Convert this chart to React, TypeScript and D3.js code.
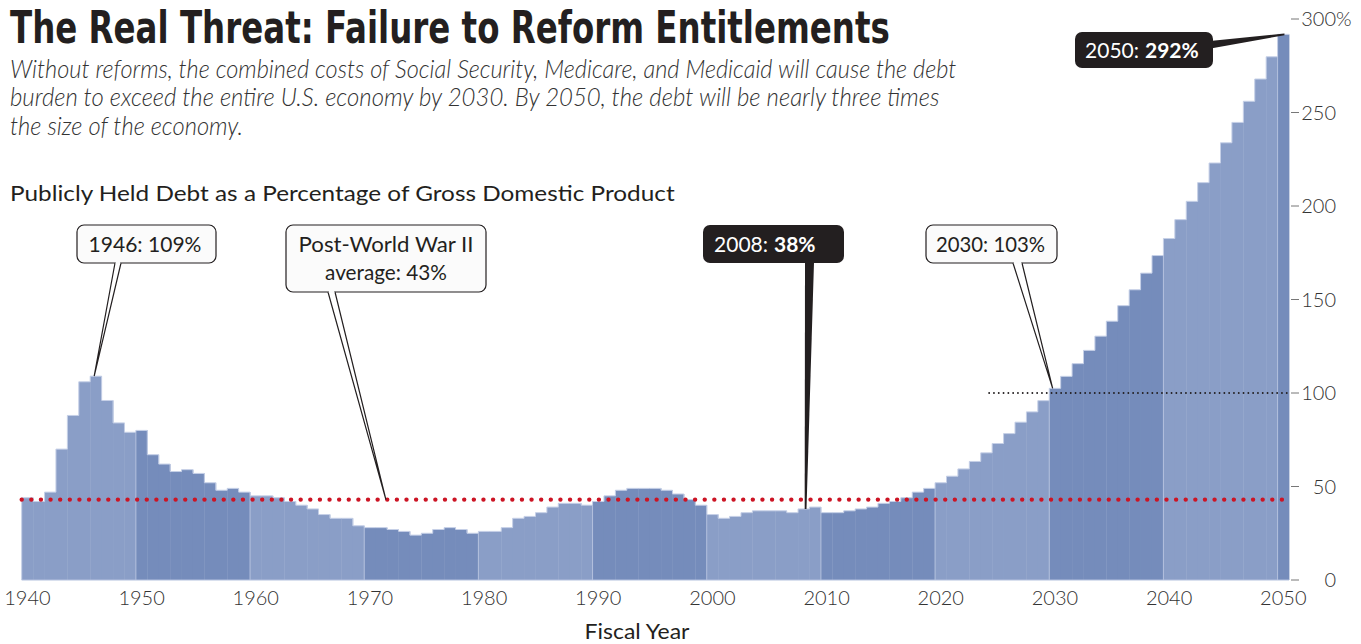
import React, { useEffect, useLayoutEffect, useRef, useState } from "react";
import * as d3 from "d3";

const years: number[] = d3.range(1940, 2051);
const debt1940s = [44, 42, 47, 70, 88, 106, 109, 96, 84, 79];
const debt1950s = [80, 67, 62, 58, 59, 57, 52, 48, 49, 47];
const debt1960s = [45, 45, 44, 42, 40, 38, 35, 33, 33, 29];
const debt1970s = [28, 28, 27, 26, 24, 25, 27, 28, 27, 25];
const debt1980s = [26, 26, 28, 33, 34, 36, 39, 41, 41, 40];
const debt1990s = [42, 45, 48, 49, 49, 49, 48, 46, 43, 40];
const debt2000s = [35, 33, 34, 36, 37, 37, 37, 36, 38, 39];
const debt2010s = [36, 36, 37, 38, 39, 41, 42, 44, 47, 49];
const debt2020s = [52, 55.5, 59.4, 63.4, 68, 73, 78.3, 84.4, 89.9, 95.9];
const debt2030s = [102.5, 108.9, 115.7, 122.8, 130.4, 138.4, 146.7, 155.2, 164.1, 173.5];
const debt2040s = [182.6, 192.7, 202.5, 212.5, 223, 233.8, 244.7, 256, 267.9, 279.8];
const debt2050 = [291.8];
const debt: number[] = [
  ...debt1940s, ...debt1950s, ...debt1960s, ...debt1970s, ...debt1980s, ...debt1990s,
  ...debt2000s, ...debt2010s, ...debt2020s, ...debt2030s, ...debt2040s, ...debt2050,
];
const xTickYears = [1940, 1950, 1960, 1970, 1980, 1990, 2000, 2010, 2020, 2030, 2040, 2050];
const yTicks = [0, 50, 100, 150, 200, 250, 300];
const postWarAverage = 43;

const W = 1361;
const H = 644;
const LIGHT = "#8a9ec7";
const DARK = "#758cbb";
const INK = "#231f20";
const FONT = "Lato, 'Open Sans', sans-serif";

type FitProps = {
  x: number;
  y: number;
  width: number;
  anchor?: "start" | "middle" | "end";
  children: React.ReactNode;
  [k: string]: any;
};

function FitText({ x, y, width, anchor = "start", children, ...rest }: FitProps) {
  const ref = useRef<SVGTextElement>(null);
  const [s, setS] = useState(1);
  useLayoutEffect(() => {
    if (ref.current) {
      const len = ref.current.getComputedTextLength();
      if (len > 0) setS(width / len);
    }
  }, [width]);
  return (
    <text ref={ref} x={0} y={0} textAnchor={anchor} transform={`translate(${x},${y}) scale(${s},1)`} {...rest}>
      {children}
    </text>
  );
}

export default function App() {
  useEffect(() => {
    document.body.style.margin = "0";
  }, []);

  const x = d3.scaleBand<number>().domain(years).range([21.7, 1289]).padding(0);
  const y = d3.scaleLinear().domain([0, 300]).range([580, 19]);
  const bw = x.bandwidth();
  const colorOf = (yr: number) => (Math.floor((yr - 1940) / 10) % 2 === 0 ? LIGHT : DARK);

  let outline = "";
  debt.forEach((v, i) => {
    const x0 = x(years[i])!;
    const x1 = x0 + bw;
    if (i === 0) outline += `M${x0},${y(0)}L${x0},${y(v)}`;
    else outline += `L${x0},${y(v)}`;
    outline += `L${x1},${y(v)}`;
  });

  const valOf = (yr: number) => debt[years.indexOf(yr)];

  const tip1946 = [x(1946)! + bw * 0.35, y(valOf(1946))];
  const tipAvg = [x(1971)! + bw * 0.9, y(postWarAverage)];
  const tip2008 = [x(2008)! + bw * 0.65, y(valOf(2008))];
  const tip2030 = [x(2030)! + bw * 0.3, y(valOf(2030))];
  const tip2050 = [x(2050)! + bw * 0.6, y(valOf(2050))];

  const whitePointer = (bl: number, br: number, by: number, tip: number[]) => (
    <g>
      <path d={`M${bl},${by}L${tip[0]},${tip[1]}L${br},${by}`} fill="#fff" stroke={INK} strokeWidth={1.2} strokeLinejoin="miter" />
      <line x1={bl + 0.8} x2={br - 0.8} y1={by} y2={by} stroke="#fbfbfb" strokeWidth={2} />
    </g>
  );

  const noteText = (cx: number, by: number, s: string, len: number) => (
    <FitText x={cx} y={by} width={len} anchor="middle" fontFamily={FONT} fontSize={21} fill={INK}>{s}</FitText>
  );

  return (
    <svg width={W} height={H} style={{ display: "block" }} xmlns="http://www.w3.org/2000/svg">
      <rect width={W} height={H} fill="#fff" />
      <FitText x={10} y={43} width={880} fontFamily="'Liberation Sans Narrow', 'DejaVu Sans Condensed', sans-serif" fontWeight={700} fontSize={45} fill={INK}>
        The Real Threat: Failure to Reform Entitlements
      </FitText>
      <g fontFamily={FONT} fontStyle="italic" fontWeight={300} fontSize={25} fill="#333">
        <FitText x={10} y={78} width={947}>Without reforms, the combined costs of Social Security, Medicare, and Medicaid will cause the debt</FitText>
        <FitText x={10} y={106} width={930}>burden to exceed the entire U.S. economy by 2030.  By 2050, the debt will be nearly three times</FitText>
        <FitText x={10} y={135} width={233}>the size of the economy.</FitText>
      </g>
      <FitText x={10} y={201} width={665} fontFamily={FONT} fontSize={22} fill={INK}>
        Publicly Held Debt as a Percentage of Gross Domestic Product
      </FitText>

      <g>
        {debt.map((v, i) => (
          <rect key={years[i]} x={x(years[i])!} y={y(v)} width={bw + 0.4} height={y(0) - y(v)} fill={colorOf(years[i])} />
        ))}
        <path d={outline} fill="none" stroke="#c6d0e7" strokeWidth={1} />
        {xTickYears.slice(1).map((yr) => (
          <line key={yr} x1={x(yr)!} x2={x(yr)!} y1={y(Math.min(valOf(yr), valOf(yr - 1)))} y2={y(0)} stroke="#b4c1de" strokeWidth={1} />
        ))}
        <line x1={x(1940)!} x2={x(2050)! + bw} y1={y(0)} y2={y(0)} stroke="#b4c1de" strokeWidth={1} />
      </g>

      <line x1={x(1940)!} x2={x(2050)! + bw} y1={y(postWarAverage)} y2={y(postWarAverage)} stroke="#cc1424" strokeWidth={4.4} strokeDasharray="0 9.62" strokeLinecap="round" />
      <line x1={x(2025)! - 3} x2={x(2050)! + bw} y1={y(100)} y2={y(100)} stroke={INK} strokeWidth={1.9} strokeDasharray="0 4.8" strokeLinecap="round" />

      <g fontFamily={FONT} fontWeight={300} fontSize={20} fill="#333">
        {yTicks.map((t) => (
          <g key={t}>
            <line x1={1291} x2={1299} y1={y(t)} y2={y(t)} stroke="#777" strokeWidth={1} />
            <text x={1336} y={y(t) + 7} textAnchor="end">{t}</text>
          </g>
        ))}
        <text x={1336} y={y(300) + 7}>%</text>
      </g>

      <g fontFamily={FONT} fontWeight={300} fontSize={20} fill="#333" textAnchor="middle">
        {xTickYears.map((yr) => (
          <text key={yr} x={x(yr)! + bw / 2} y={605}>{yr}</text>
        ))}
      </g>
      <FitText x={637} y={639} width={105} anchor="middle" fontFamily={FONT} fontSize={22} fill={INK}>Fiscal Year</FitText>

      {/* 1946 */}
      <rect x={77} y={225} width={139} height={38} rx={7} fill="#fbfbfb" stroke={INK} strokeWidth={1.2} />
      {whitePointer(115, 121, 263, tip1946)}
      {noteText(145, 252, "1946: 109%", 113)}

      {/* post-war average */}
      <rect x={286} y={225} width={200} height={67} rx={7} fill="#fbfbfb" stroke={INK} strokeWidth={1.2} />
      {whitePointer(328, 335, 292, tipAvg)}
      {noteText(386, 252, "Post-World War II", 175)}
      {noteText(386, 280, "average: 43%", 122)}

      {/* 2008 */}
      <path d={`M805,262L814,262L${tip2008[0] + 1},${tip2008[1]}L${tip2008[0] - 0.8},${tip2008[1]}Z`} fill={INK} />
      <rect x={703} y={225} width={141} height={38} rx={7} fill={INK} />
      <text x={768} y={252} textAnchor="end" fontFamily={FONT} fontSize={21} fill="#fff">2008:</text>
      <text x={774} y={252} fontFamily={FONT} fontSize={21} fontWeight={700} fill="#fff">38%</text>

      {/* 2030 */}
      <rect x={926} y={225} width={131} height={38} rx={7} fill="#fbfbfb" stroke={INK} strokeWidth={1.2} />
      {whitePointer(1013, 1022, 263, tip2030)}
      {noteText(990.5, 252, "2030: 103%", 109)}

      {/* 2050 */}
      <path d={`M1205,41.5L1205,49.5L${tip2050[0]},${tip2050[1] + 0.8}L${tip2050[0]},${tip2050[1] - 0.8}Z`} fill={INK} />
      <rect x={1075} y={32} width={138} height={36} rx={7} fill={INK} />
      <text x={1139} y={58} textAnchor="end" fontFamily={FONT} fontSize={21} fill="#fff">2050:</text>
      <text x={1145} y={58} fontFamily={FONT} fontSize={21} fontWeight={700} fill="#fff">292%</text>
    </svg>
  );
}
